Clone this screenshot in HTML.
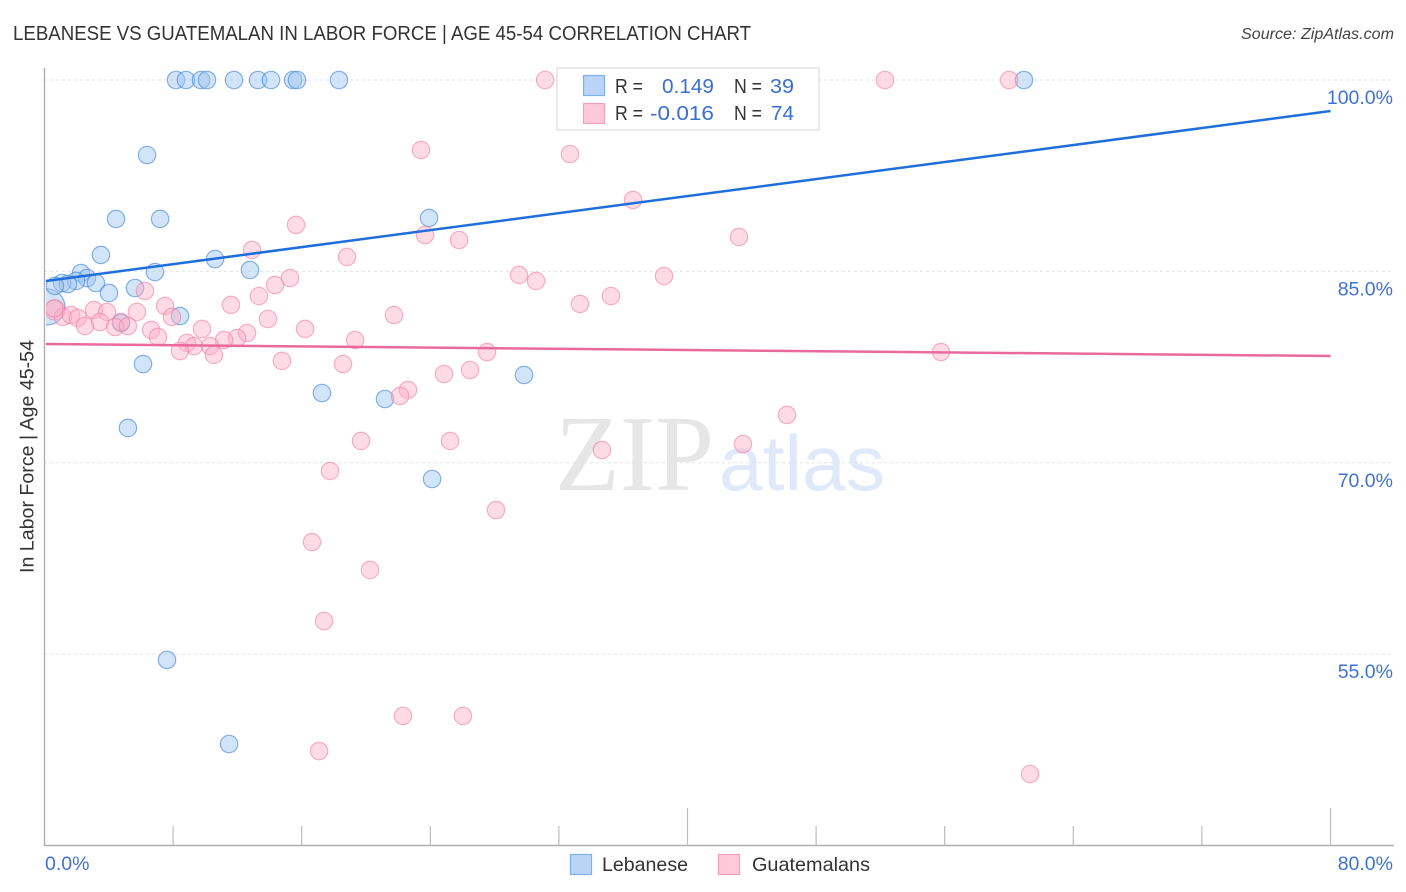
<!DOCTYPE html>
<html lang="en">
<head>
<meta charset="utf-8">
<title>Lebanese vs Guatemalan in Labor Force | Age 45-54 Correlation Chart</title>
<style>
html,body{margin:0;padding:0;background:#fff;width:1406px;height:892px;overflow:hidden}
svg{display:block}
text{font-family:"Liberation Sans",sans-serif}
</style>
</head>
<body>
<svg id="chart" width="1406" height="892" viewBox="0 0 1406 892" xmlns="http://www.w3.org/2000/svg">
  <defs><clipPath id="plot-clip"><rect x="46" y="60" width="1350" height="785"/></clipPath></defs>
  <text x="13" y="40" font-size="20" fill="#333" textLength="738" lengthAdjust="spacingAndGlyphs">LEBANESE VS GUATEMALAN IN LABOR FORCE | AGE 45-54 CORRELATION CHART</text>
  <text x="1241" y="39" font-size="15.5" font-style="italic" fill="#444" textLength="153" lengthAdjust="spacingAndGlyphs">Source: ZipAtlas.com</text>
  <g>
    <text x="555" y="490" font-size="108" fill="#e6e6e6" style="font-family:'Liberation Serif',serif" textLength="159" lengthAdjust="spacingAndGlyphs">ZIP</text>
    <text x="719" y="490" font-size="78" fill="#dfe9f9" textLength="166" lengthAdjust="spacingAndGlyphs">atlas</text>
  </g>
  <g id="grid"></g>
  <g id="axes"></g>
  <g id="points" clip-path="url(#plot-clip)"></g>
  <g id="trends"></g>
  <text transform="translate(33.5,573) rotate(-90)" font-size="19" fill="#333" textLength="233" lengthAdjust="spacingAndGlyphs">In Labor Force | Age 45-54</text>
  <g>
    <rect x="557" y="68" width="262" height="62" fill="#fff" stroke="#dcdcdc" stroke-width="1.2"/>
    <rect x="583.5" y="75.5" width="21" height="20" fill="#b9d4f7" stroke="#7fb0ea" stroke-width="1.2"/>
    <rect x="583.5" y="103.5" width="21" height="20" fill="#ffc9da" stroke="#f4a0bc" stroke-width="1.2"/>
    <text x="615" y="93" font-size="20" fill="#333" textLength="28" lengthAdjust="spacingAndGlyphs">R =</text>
    <text x="662" y="93" font-size="20.5" fill="#3a6fd0" textLength="52" lengthAdjust="spacingAndGlyphs">0.149</text>
    <text x="734" y="93" font-size="20" fill="#333" textLength="28" lengthAdjust="spacingAndGlyphs">N =</text>
    <text x="770" y="93" font-size="20.5" fill="#3a6fd0" textLength="24" lengthAdjust="spacingAndGlyphs">39</text>
    <text x="615" y="120" font-size="20" fill="#333" textLength="28" lengthAdjust="spacingAndGlyphs">R =</text>
    <text x="650" y="120" font-size="20.5" fill="#3a6fd0" textLength="64" lengthAdjust="spacingAndGlyphs">-0.016</text>
    <text x="734" y="120" font-size="20" fill="#333" textLength="28" lengthAdjust="spacingAndGlyphs">N =</text>
    <text x="771" y="120" font-size="20.5" fill="#3a6fd0" textLength="23" lengthAdjust="spacingAndGlyphs">74</text>
  </g>
  <g>
    <rect x="570.5" y="854.5" width="21" height="20" fill="#b9d4f7" stroke="#7fb0ea" stroke-width="1.2"/>
    <text x="602" y="871" font-size="19.5" fill="#333" textLength="86" lengthAdjust="spacingAndGlyphs">Lebanese</text>
    <rect x="718.5" y="854.5" width="21" height="20" fill="#ffc9da" stroke="#f4a0bc" stroke-width="1.2"/>
    <text x="752" y="871" font-size="19.5" fill="#333" textLength="118" lengthAdjust="spacingAndGlyphs">Guatemalans</text>
  </g>
</svg>
<script>
const yTickValues = [100, 85, 70, 55];
const yTickLabels = ['100.0%', '85.0%', '70.0%', '55.0%'];
const xTickValues = [0, 8, 16, 24, 32, 40, 48, 56, 64, 72, 80];
const xEdgeLabels = ['0.0%', '80.0%'];

const lebaneseX = [8.18,8.80,9.74,10.11,11.79,13.28,14.09,15.46,15.71,18.32,60.93,6.38,4.45,7.19,23.92,3.51,10.61,6.87,12.78,2.27,2.64,1.96,1.09,1.46,3.20,0.65,4.01,5.63,8.43,4.76,6.13,17.26,21.18,29.83,5.19,24.11,7.62,11.48];
const lebaneseY = [100,100,100,100,100,100,100,100,100,100,100,94.12,89.11,89.11,89.19,86.29,85.97,84.95,85.11,84.87,84.48,84.25,84.09,84.01,84.09,83.86,83.31,83.70,81.50,80.96,77.74,75.47,75.00,76.88,72.73,68.73,54.55,47.96];
const lebaneseClusterX = [0.16];
const lebaneseClusterY = [82.21];

const guatemalanX = [31.14,52.29,60.00,23.42,32.69,36.61,15.65,23.67,25.79,43.20,12.91,18.82,29.52,30.58,38.54,15.27,14.34,6.25,13.34,33.31,35.24,7.50,11.60,21.74,13.90,7.93,3.08,3.89,5.75,1.15,1.65,2.08,3.45,4.76,2.52,4.39,5.19,6.63,7.06,9.80,16.21,19.32,12.60,11.98,11.17,8.86,9.30,10.30,8.43,10.54,14.77,18.57,27.53,55.77,24.85,26.47,22.61,22.12,46.19,19.69,25.23,43.45,34.68,17.76,28.09,16.64,20.25,17.39,22.30,26.03,17.08,61.31,0.60];
const guatemalanY = [100,100,100,94.51,94.20,90.60,88.64,87.85,87.46,87.70,86.68,86.13,84.72,84.25,84.64,84.48,83.93,83.46,83.07,82.45,83.07,82.29,82.37,81.58,81.27,81.43,81.97,81.82,81.82,81.43,81.58,81.35,81.03,81.03,80.72,80.64,80.72,80.41,79.86,80.49,80.49,79.62,80.17,79.78,79.62,79.39,79.15,79.15,78.76,78.45,77.98,77.74,78.68,78.68,76.96,77.27,75.71,75.24,73.75,71.71,71.71,71.47,71.00,69.36,66.30,63.79,61.60,57.60,50.16,50.16,47.41,45.61,82.10];
const guatemalanClusterX = [0.65];
const guatemalanClusterY = [81.97];

const trendX = [0.09, 80];
const lebaneseTrend = [84.25, 97.57];
const guatemalanTrend = [79.31, 78.37];

const NS = 'http://www.w3.org/2000/svg';
function xScale(v) { return 44.5 + v * (1286 / 80); }
function yScale(v) { return 80 + (100 - v) * 12.76; }
function make(tag, parent, attrs) {
  const el = document.createElementNS(NS, tag);
  for (const k in attrs) el.setAttribute(k, attrs[k]);
  parent.appendChild(el);
  return el;
}
const grid = document.getElementById('grid');
const axes = document.getElementById('axes');
const points = document.getElementById('points');
const trends = document.getElementById('trends');

yTickValues.forEach(function (v, i) {
  const line = make('line', grid, {x1: 44, x2: 1394, y1: yScale(v), y2: yScale(v), stroke: '#e3e3e7', 'stroke-width': 1, 'stroke-dasharray': '3 3'});
  
  
  const label = make('text', axes, {x: 1393, y: yScale(v) + 24, 'font-size': 19.5, fill: '#3f72d2', 'text-anchor': 'end'});
  label.textContent = yTickLabels[i];
  
  
});

const yAxis = make('line', axes, {x1: 44.5, x2: 44.5, y1: 68, y2: 846, stroke: '#b0b0b0', 'stroke-width': 1.4});


const xAxis = make('line', axes, {x1: 44, x2: 1394, y1: 845.5, y2: 845.5, stroke: '#b0b0b0', 'stroke-width': 1.4});



xTickValues.slice(1).forEach(function (v) {
  const top = (v === 40 || v === 80) ? 808 : 826;
  const tick = make('line', axes, {x1: xScale(v), x2: xScale(v), y1: top, y2: 845, stroke: '#bcbcbc', 'stroke-width': 1.2});
  
  
});

const xLabelMin = make('text', axes, {x: 45, y: 870, 'font-size': 19.5, fill: '#3f72d2'});
xLabelMin.textContent = xEdgeLabels[0];


const xLabelMax = make('text', axes, {x: 1393, y: 870, 'font-size': 19.5, fill: '#3f72d2', 'text-anchor': 'end'});
xLabelMax.textContent = xEdgeLabels[1];



const blueStyle = {fill: 'rgba(158,196,240,0.46)', stroke: 'rgba(66,134,220,0.62)', 'stroke-width': 1.2};
const pinkStyle = {fill: 'rgba(255,176,200,0.45)', stroke: 'rgba(238,125,165,0.58)', 'stroke-width': 1.2};

lebaneseClusterX.forEach(function (v, i) {
  const c = make('circle', points, Object.assign({cx: xScale(v), cy: yScale(lebaneseClusterY[i]), r: 18}, blueStyle));
  
  
});
lebaneseX.forEach(function (v, i) {
  const c = make('circle', points, Object.assign({cx: xScale(v), cy: yScale(lebaneseY[i]), r: 8.7}, blueStyle));
  
  
});
guatemalanClusterX.forEach(function (v, i) {
  const c = make('circle', points, Object.assign({cx: xScale(v), cy: yScale(guatemalanClusterY[i]), r: 10}, pinkStyle));
  
  
});
guatemalanX.forEach(function (v, i) {
  const c = make('circle', points, Object.assign({cx: xScale(v), cy: yScale(guatemalanY[i]), r: 8.7}, pinkStyle));
  
  
});

const blueTrend = make('line', trends, {x1: xScale(trendX[0]), y1: yScale(lebaneseTrend[0]), x2: xScale(trendX[1]), y2: yScale(lebaneseTrend[1]), stroke: '#1f6fdb', 'stroke-width': 2.5});


const pinkTrend = make('line', trends, {x1: xScale(trendX[0]), y1: yScale(guatemalanTrend[0]), x2: xScale(trendX[1]), y2: yScale(guatemalanTrend[1]), stroke: '#ea6a9b', 'stroke-width': 2.5});


</script>
</body>
</html>
